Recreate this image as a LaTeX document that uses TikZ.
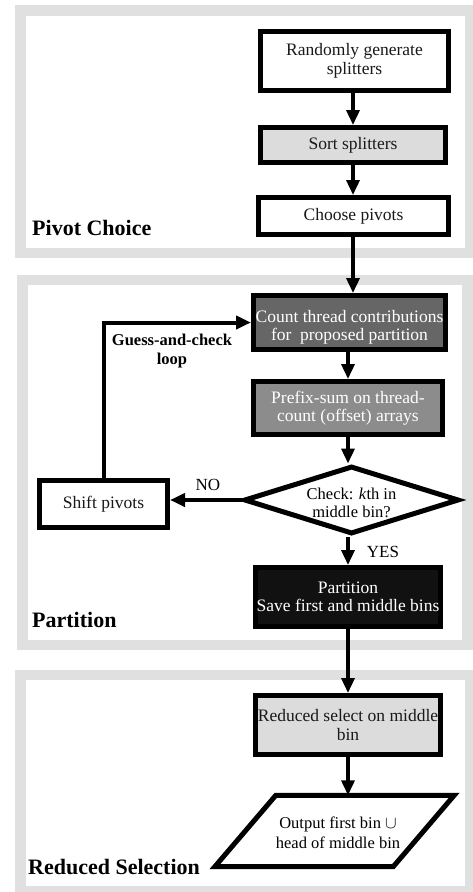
\documentclass[tikz,border=0pt]{standalone}
\usepackage{fontspec}
\setmainfont{Liberation Serif}
\usetikzlibrary{arrows.meta,shapes.geometric}
\definecolor{frame}{HTML}{E0E0E0}
\definecolor{lightbox}{HTML}{DCDCDC}
\definecolor{darkbox}{HTML}{666666}
\definecolor{midbox}{HTML}{8C8C8C}
\definecolor{blackbox}{HTML}{111111}
\begin{document}
\begin{tikzpicture}[x=1pt,y=-1pt,
  box/.style={draw=black, line width=5pt, rectangle, inner sep=0pt, align=center,
    font=\fontsize{17.5}{18.5}\selectfont, text=black!90},
  txt/.style={align=center, font=\fontsize{17.5}{18.5}\selectfont, inner sep=0pt},
  lbl/.style={anchor=west, inner sep=0pt, font=\fontsize{22}{24}\selectfont\bfseries},
  arr/.style={line width=3.5pt, -{Triangle[width=13pt,length=15pt]}},
  panel/.style={fill=frame}
]
\useasboundingbox (0,0) rectangle (473,892);
\fill[white] (0,0) rectangle (473,892);
% panels
\fill[panel] (15,5) rectangle (473,258);
\fill[white] (26,16) rectangle (465,248);
\fill[panel] (17,275) rectangle (473,650);
\fill[white] (28,285) rectangle (462,640);
\fill[panel] (15,670) rectangle (473,892);
\fill[white] (26,680) rectangle (465,886);

% nodes
\node[box, fill=white, minimum width=188pt, minimum height=59pt] (gen) at (354.5,61)
  {Randomly generate\\splitters};
\node[box, fill=lightbox, minimum width=185pt, minimum height=35pt] (sort) at (353,145)
  {Sort splitters};
\node[box, fill=white, minimum width=190pt, minimum height=37pt] (choose) at (353.5,216)
  {Choose pivots};
\node[box, fill=darkbox, minimum width=192pt, minimum height=54pt] (count) at (349.5,322.5) {};
\node[txt, text=white] (counttxt) at (349.5,327.5) {Count thread contributions\\for~ proposed partition};
\node[box, fill=midbox, minimum width=189pt, minimum height=53pt, text=white] (prefix) at (348,408)
  {Prefix-sum on thread-\\count (offset) arrays};
\node[draw=black, line width=5pt, diamond, fill=white, inner sep=0pt, aspect=3.16,
  minimum width=215pt, minimum height=68pt] (check) at (351.5,500) {};
\node[txt, font=\fontsize{16.5}{18}\selectfont] (checktxt) at (351.5,503) {Check: \textit{k}th in\\middle bin?};
\node[box, fill=white, minimum width=128pt, minimum height=47pt] (shift) at (103.5,504)
  {Shift pivots};
\node[box, fill=blackbox, minimum width=185pt, minimum height=59pt, text=white] (part) at (348,597)
  {Partition\\Save first and middle bins};
\node[box, fill=lightbox, minimum width=185pt, minimum height=59pt] (sel) at (348,725)
  {Reduced select on middle\\bin};
\node[inner sep=0pt, minimum width=239pt, minimum height=71pt] (out) at (334.5,831) {};
\draw[line width=5pt, fill=white, line join=miter]
  (out.south west) -- ([xshift=61pt]out.north west) -- (out.north east)
  -- ([xshift=-61pt]out.south east) -- cycle;
\node[txt, font=\fontsize{16.5}{20.5}\selectfont] (outtxt) at (338,833) {Output first bin $\cup$\\head of middle bin};

% labels
\node[lbl] (l1) at (32,228) {Pivot Choice};
\node[lbl] (l2) at (32,620) {Partition};
\node[lbl] (l3) at (28,867) {Reduced Selection};
\node[txt, font=\fontsize{16.5}{19}\selectfont\bfseries] (loop) at (172,351) {Guess-and-check\\loop};
\node[txt, font=\fontsize{17}{18}\selectfont] (no) at (208,485) {NO};
\node[txt, font=\fontsize{17}{18}\selectfont] (yes) at (383,552) {YES};

% connectors
\draw[arr] (gen.south -| sort.north) -- (sort.north);
\draw[arr] (sort.south) -- (sort.south |- choose.north);
\draw[arr] (choose.south -| sort.south) -- (sort.south |- count.north);
\draw[arr] (count.south -| prefix.south) -- (prefix.north);
\draw[arr] (prefix.south) -- (prefix.south |- check.north);
\draw[arr, line width=4pt] (check.west) -- (check.west -| shift.east);
\draw[arr, line width=4pt] (shift.north) |- (count.west);
\draw[arr] (check.south -| part.north) -- (part.north);
\draw[arr] (part.south) -- (sel.north);
\draw[arr] (sel.south) -- (sel.south |- out.north);
\end{tikzpicture}
\end{document}
